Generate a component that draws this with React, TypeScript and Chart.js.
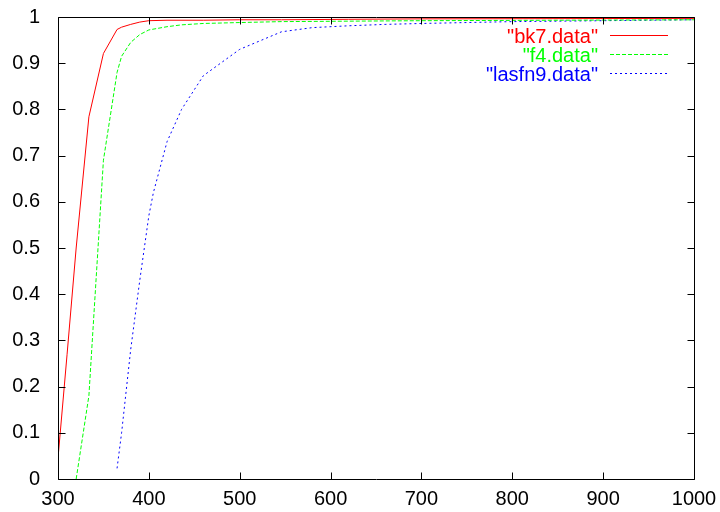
import React, { useEffect, useRef } from 'react';
import { Chart, registerables } from 'chart.js';

Chart.register(...registerables);

// ---- data ----
const BK7_X = [300, 310, 320, 334, 350, 365, 370, 380, 390, 400, 420, 460, 500, 546, 620, 700, 1000];
const BK7_Y = [0.045, 0.27, 0.5, 0.784, 0.921, 0.973, 0.978, 0.984, 0.989, 0.992, 0.993, 0.993, 0.994, 0.994, 0.995, 0.996, 0.997];

const F4_X = [320, 334, 350, 365, 370, 380, 390, 400, 420, 436, 460, 500, 546, 620, 700, 1000];
const F4_Y = [0.0, 0.18, 0.69, 0.88, 0.915, 0.945, 0.962, 0.972, 0.979, 0.983, 0.986, 0.988, 0.99, 0.991, 0.992, 0.994];

const LASFN9_X = [365, 370, 380, 390, 400, 405, 420, 436, 460, 500, 546, 580, 620, 660, 700, 800, 1000];
const LASFN9_Y = [0.023, 0.1, 0.28, 0.43, 0.57, 0.62, 0.73, 0.8, 0.873, 0.93, 0.968, 0.977, 0.981, 0.984, 0.986, 0.99, 0.994];

const SERIES_LABELS = ['"bk7.data"', '"f4.data"', '"lasfn9.data"'];
const SERIES_COLORS = ['#ff0000', '#00ff00', '#0000ff'];
const SERIES_DASH = [[], [4, 2], [2, 3]];

const X_MIN = 300;
const X_MAX = 1000;
const X_STEP = 100;
const Y_MIN = 0;
const Y_MAX = 1;
const Y_STEP = 0.1;

const FONT_FAMILY = '"Liberation Sans", Arial, Helvetica, sans-serif';

function toPoints(xs: number[], ys: number[]) {
  return xs.map((x, i) => ({ x, y: ys[i] }));
}

const framePlugin = {
  id: 'gnuFrame',
  afterDatasetsDraw(chart: any) {
    const { ctx, chartArea: a, scales } = chart;
    const L = 7;
    ctx.save();
    ctx.strokeStyle = '#000';
    ctx.lineWidth = 1;
    ctx.setLineDash([]);
    ctx.beginPath();
    const l = Math.round(a.left) + 0.5;
    const r = Math.round(a.right) + 0.5;
    const t = Math.round(a.top) + 0.5;
    const b = Math.round(a.bottom) + 0.5;
    ctx.rect(l, t, r - l, b - t);
    scales.x.ticks.forEach((tk: any) => {
      const px = Math.round(scales.x.getPixelForValue(tk.value)) + 0.5;
      ctx.moveTo(px, b);
      ctx.lineTo(px, b - L);
      ctx.moveTo(px, t);
      ctx.lineTo(px, t + L);
    });
    scales.y.ticks.forEach((tk: any) => {
      const py = Math.round(scales.y.getPixelForValue(tk.value)) + 0.5;
      ctx.moveTo(l, py);
      ctx.lineTo(l + L, py);
      ctx.moveTo(r, py);
      ctx.lineTo(r - L, py);
    });
    ctx.stroke();
    ctx.restore();
  },
};

const legendPlugin = {
  id: 'gnuLegend',
  afterDraw(chart: any) {
    const { ctx } = chart;
    const textRight = 598;
    const lineStart = 610;
    const lineEnd = 668;
    const top = 36;
    const row = 19;
    ctx.save();
    ctx.font = `20px ${FONT_FAMILY}`;
    ctx.textAlign = 'right';
    ctx.textBaseline = 'middle';
    chart.data.datasets.forEach((ds: any, i: number) => {
      const y = top + i * row;
      const color = SERIES_COLORS[i];
      ctx.fillStyle = color;
      ctx.fillText(ds.label, textRight, y + 1);
      ctx.strokeStyle = color;
      ctx.lineWidth = 1;
      ctx.setLineDash(SERIES_DASH[i]);
      ctx.beginPath();
      ctx.moveTo(lineStart, Math.round(y) - 0.5);
      ctx.lineTo(lineEnd, Math.round(y) - 0.5);
      ctx.stroke();
    });
    ctx.restore();
  },
};

export default function App() {
  const canvasRef = useRef<HTMLCanvasElement | null>(null);

  useEffect(() => {
    document.body.style.margin = '0';
    document.body.style.background = '#ffffff';
    const canvas = canvasRef.current;
    if (!canvas) return;
    const xs = [BK7_X, F4_X, LASFN9_X];
    const ys = [BK7_Y, F4_Y, LASFN9_Y];
    const chart = new Chart(canvas, {
      type: 'line',
      data: {
        datasets: SERIES_LABELS.map((label, i) => ({
          label,
          data: toPoints(xs[i], ys[i]),
          borderColor: SERIES_COLORS[i],
          backgroundColor: SERIES_COLORS[i],
          borderWidth: 1,
          borderDash: SERIES_DASH[i],
          pointRadius: 0,
          tension: 0,
          fill: false,
        })),
      },
      options: {
        responsive: false,
        animation: false,
        devicePixelRatio: 1,
        layout: { padding: { top: 17, right: 26, left: 0, bottom: 0 } },
        plugins: {
          legend: { display: false },
          tooltip: { enabled: false },
        },
        scales: {
          x: {
            type: 'linear',
            min: X_MIN,
            max: X_MAX,
            grid: { display: false, drawTicks: false },
            border: { display: false },
            ticks: {
              stepSize: X_STEP,
              color: '#000',
              padding: 8,
              maxRotation: 0,
              font: { family: FONT_FAMILY, size: 20 },
              callback: (v: any) => String(Math.round(Number(v))),
            },
            afterFit(scale: any) {
              scale.height = 33;
              scale.paddingLeft = 0;
              scale.paddingRight = 0;
            },
          },
          y: {
            type: 'linear',
            min: Y_MIN,
            max: Y_MAX,
            grid: { display: false, drawTicks: false },
            border: { display: false },
            ticks: {
              stepSize: Y_STEP,
              color: '#000',
              padding: 18,
              font: { family: FONT_FAMILY, size: 20 },
              callback: (v: any) => String(Math.round(Number(v) * 10) / 10),
            },
            afterFit(scale: any) {
              scale.width = 58;
              scale.paddingTop = 0;
              scale.paddingBottom = 0;
            },
          },
        },
      },
      plugins: [framePlugin, legendPlugin],
    });
    return () => chart.destroy();
  }, []);

  return (
    <div style={{ width: 720, height: 512, background: '#fff' }}>
      <canvas ref={canvasRef} width={720} height={512} style={{ display: 'block' }} />
    </div>
  );
}
